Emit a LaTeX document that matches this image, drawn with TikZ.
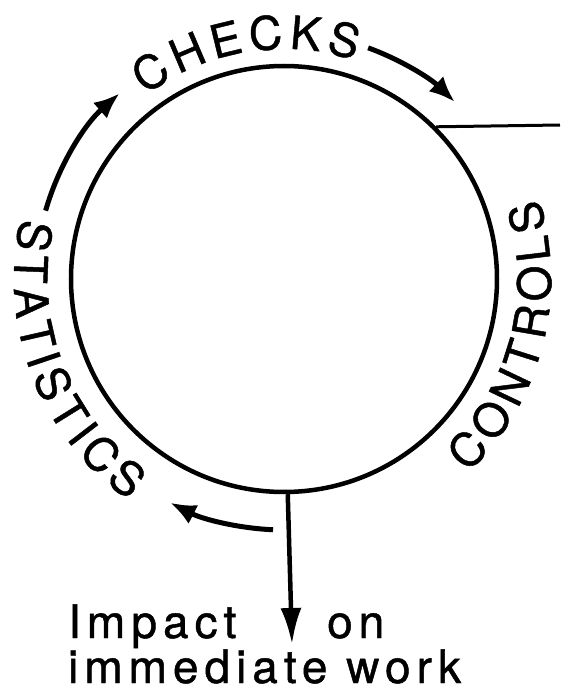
\documentclass[tikz,border=0pt]{standalone}
\usepackage{fontspec}
\setmainfont[FakeBold=1]{TeX Gyre Heros}
\usetikzlibrary{arrows.meta, decorations.text}
\newcommand{\bigletters}{\fontsize{46}{46}\selectfont}
\tikzstyle{wheel} = [circle, draw=black, line width=4.5pt, minimum size=426pt, inner sep=0pt]
\tikzstyle{arrow} = [line width=5pt, -{Latex[length=26pt, width=21pt]}]
\tikzstyle{worktext} = [anchor=base west, inner sep=0pt, font=\bigletters\addfontfeature{LetterSpace=13}]
\tikzstyle{ring} = [decorate, decoration={text along path, text align=fit to path}]

\begin{document}
\begin{tikzpicture}[x=1pt, y=1pt]
\useasboundingbox (-284,279) rectangle (276,-409);

\node (circ) [wheel] at (0,0) {};

\path [ring, decoration={text={|\bigletters|CHECKS}}] (127:230pt) arc[start angle=127, end angle=72, radius=230pt];
\path [ring, decoration={text={|\bigletters|STATISTICS}}] (167:270pt) arc[start angle=167, end angle=235, radius=270pt];
\path [ring, decoration={text={|\bigletters|CONTROLS}}] (-46.5:267pt) arc[start angle=-46.5, end angle=17.5, radius=267pt];

\draw [arrow] (164:248pt) arc[start angle=164, end angle=131.5, radius=248pt];
\draw [arrow] (70:246pt) arc[start angle=70, end angle=46, radius=246pt];
\draw [arrow] (267.5:251pt) arc[start angle=267.5, end angle=243, radius=251pt];

\coordinate (away) at (276,154);
\draw [line width=3pt] (circ.45) -- (away);

\node (impact) [worktext] at (-216,-359) {Impact};
\node (on) [worktext] at (43,-359) {on};
\node (work) [worktext] at (-216,-404) {immediate work};

\coordinate (down) at (8,-365);
\draw [arrow, line width=4.5pt, -{Latex[length=36pt, width=21pt]}] (circ.271.6) -- (down);
\end{tikzpicture}
\end{document}
